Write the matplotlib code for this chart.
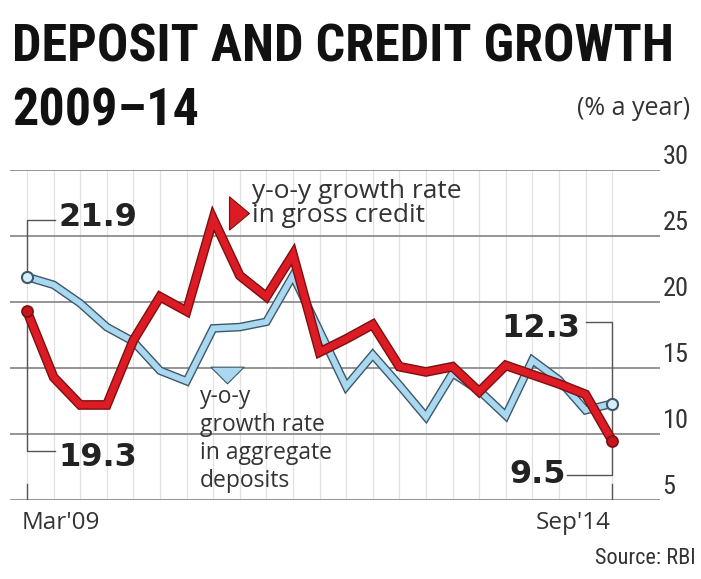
import numpy as np
import matplotlib.pyplot as plt
import matplotlib.patheffects as pe
from matplotlib import font_manager

# quarterly points, Mar'09 .. Sep'14
quarters = np.arange(23)
deposits = [21.9, 21.3, 19.9, 18.1, 17.0, 14.8, 14.0, 18.0, 18.1, 18.5, 22.0, 17.8,
            13.6, 16.0, 13.7, 11.3, 14.6, 13.3, 11.4, 15.6, 14.1, 11.8, 12.3]
credit = [19.3, 14.3, 12.2, 12.2, 17.1, 20.4, 19.3, 26.3, 22.0, 20.4, 23.6, 16.2,
          17.2, 18.3, 15.1, 14.7, 15.1, 13.2, 15.2, 14.5, 13.8, 13.0, 9.5]
yticks = [5, 10, 15, 20, 25, 30]
xlabels = ["Mar'09", "Sep'14"]
credit_label = ['y-o-y growth rate', 'in gross credit']
deposit_label = ['y-o-y', 'growth rate', 'in aggregate', 'deposits']

installed = {f.name for f in font_manager.fontManager.ttflist}
def pick(cands):
    for c in cands:
        if c in installed:
            return c
    return 'DejaVu Sans'

narrow = pick(['Roboto Condensed', 'Liberation Sans Narrow', 'DejaVu Sans'])
body = pick(['Open Sans', 'Noto Sans', 'DejaVu Sans'])
NS = dict(family=narrow, stretch='condensed')

fig = plt.figure(figsize=(7.01, 5.79), dpi=100)
ax = fig.add_axes([10/701, 1 - 500/579, 650/701, 330/579])
ax.set_xlim(-0.64, 23.8)
ax.set_ylim(5, 30)
for s in ax.spines.values():
    s.set_visible(False)
ax.set_xticks([])
ax.set_yticks([])

# grid
for v in yticks:
    ax.axhline(v, color='#8c8c8c', lw=1.3, zorder=1)
for q in quarters:
    ax.plot([q, q], [5, 30], color='#e2e2e2', lw=0.9, zorder=0)

# y labels sit on top of the gridlines, right side
for v in yticks:
    ax.text(1.004, v + 0.1, str(v), transform=ax.get_yaxis_transform(),
            ha='left', va='bottom', fontsize=19, color='#333333', **NS)

# brackets for the end values
bc = '#555555'
ax.plot([0, 0, 1.05], [deposits[0], 26.2, 26.2], color=bc, lw=1, zorder=2)
ax.plot([0, 0, 1.05], [credit[0], 8.7, 8.7], color=bc, lw=1, zorder=2)
ax.plot([0, 0], [5, 6.2], color=bc, lw=1, zorder=2)
ax.plot([21.0, 22, 22, 20.3], [18.45, 18.45, 6.9, 6.9], color=bc, lw=1, zorder=2)
ax.plot([22, 22], [5, 6.2], color=bc, lw=1, zorder=2)

ax.text(1.17, 26.4, f'{deposits[0]}', fontsize=23, fontweight='bold',
        color='#222222', va='center', ha='left')
ax.text(1.17, 8.2, f'{credit[0]}', fontsize=23, fontweight='bold',
        color='#222222', va='center', ha='left')
ax.text(20.8, 18.0, f'{deposits[-1]}', fontsize=23, fontweight='bold',
        color='#222222', va='center', ha='right')
ax.text(20.25, 6.95, f'{credit[-1]}', fontsize=23, fontweight='bold',
        color='#222222', va='center', ha='right')

# series
ax.plot(quarters, deposits, color='#a9d8f0', lw=4.2, solid_joinstyle='miter',
        solid_capstyle='round', zorder=3,
        path_effects=[pe.Stroke(linewidth=6.2, foreground='#3d5868'), pe.Normal()])
ax.plot(quarters, credit, color='#dc1b24', lw=5, solid_joinstyle='miter',
        solid_capstyle='round', zorder=4,
        path_effects=[pe.Stroke(linewidth=7, foreground='#7c1010'), pe.Normal()])
ax.plot(quarters[[0, -1]], [deposits[0], deposits[-1]], 'o', ms=8, mfc='#d6eef9',
        mec='#3d5868', mew=1.5, zorder=3)
ax.plot(quarters[[0, -1]], [credit[0], credit[-1]], 'o', ms=8, mfc='#c8141c',
        mec='#7c1010', mew=1.2, zorder=5)

# legend labels
tri_right = [(-0.6, -1), (0.6, 0), (-0.6, 1), (-0.6, -1)]
tri_down = [(-1, 0.5), (1, 0.5), (0, -0.5), (-1, 0.5)]
ax.plot([7.97], [26.74], marker=tri_right, ms=24, color='#dc1b24', mec='#7c1010',
        mew=0.8, zorder=5)
for line, yb in zip(credit_label, [27.88, 26.06]):
    ax.text(8.45, yb, line, fontsize=19, family=body, color='#333333',
            va='baseline', ha='left')
ax.plot([7.52], [14.5], marker=tri_down, ms=24, color='#a9d8f0', mec='#3d5868',
        mew=0.8, zorder=5)
for line, yb in zip(deposit_label, [12.35, 10.23, 8.11, 5.98]):
    ax.text(6.5, yb, line, fontsize=16.5, family=body, color='#333333',
            va='baseline', ha='left')

# x labels
ax.text(quarters[0] - 0.2, 4.2, xlabels[0], fontsize=17.5, family=body,
        color='#333333', ha='left', va='top')
ax.text(quarters[-1] - 0.05, 4.2, xlabels[1], fontsize=17.5, family=body,
        color='#333333', ha='right', va='top')

# titles
t1 = fig.text(12/701, 1 - 62/579, 'DEPOSIT AND CREDIT GROWTH', fontsize=40,
              fontweight='bold', ha='left', va='baseline', color='#111111', **NS)
t2 = fig.text(12/701, 1 - 125/579, '2009\u201314', fontsize=40,
              fontweight='bold', ha='left', va='baseline', color='#111111', **NS)
t3 = fig.text(690/701, 1 - 115/579, '(% a year)', fontsize=18, family=body,
              ha='right', va='baseline', color='#333333')
fig.text(696/701, 1 - 564/579, 'Source: RBI', fontsize=16,
         ha='right', va='baseline', color='#333333', **NS)

# shrink title to fit the reference width
r = fig.canvas.get_renderer()
w = t1.get_window_extent(r).width
if w > 660:
    fs = 40 * 660 / w
    t1.set_fontsize(fs)
    t2.set_fontsize(fs)
w = t3.get_window_extent(r).width
if w > 145:
    t3.set_fontsize(18 * 145 / w)

fig.savefig('out.png', dpi=100)
